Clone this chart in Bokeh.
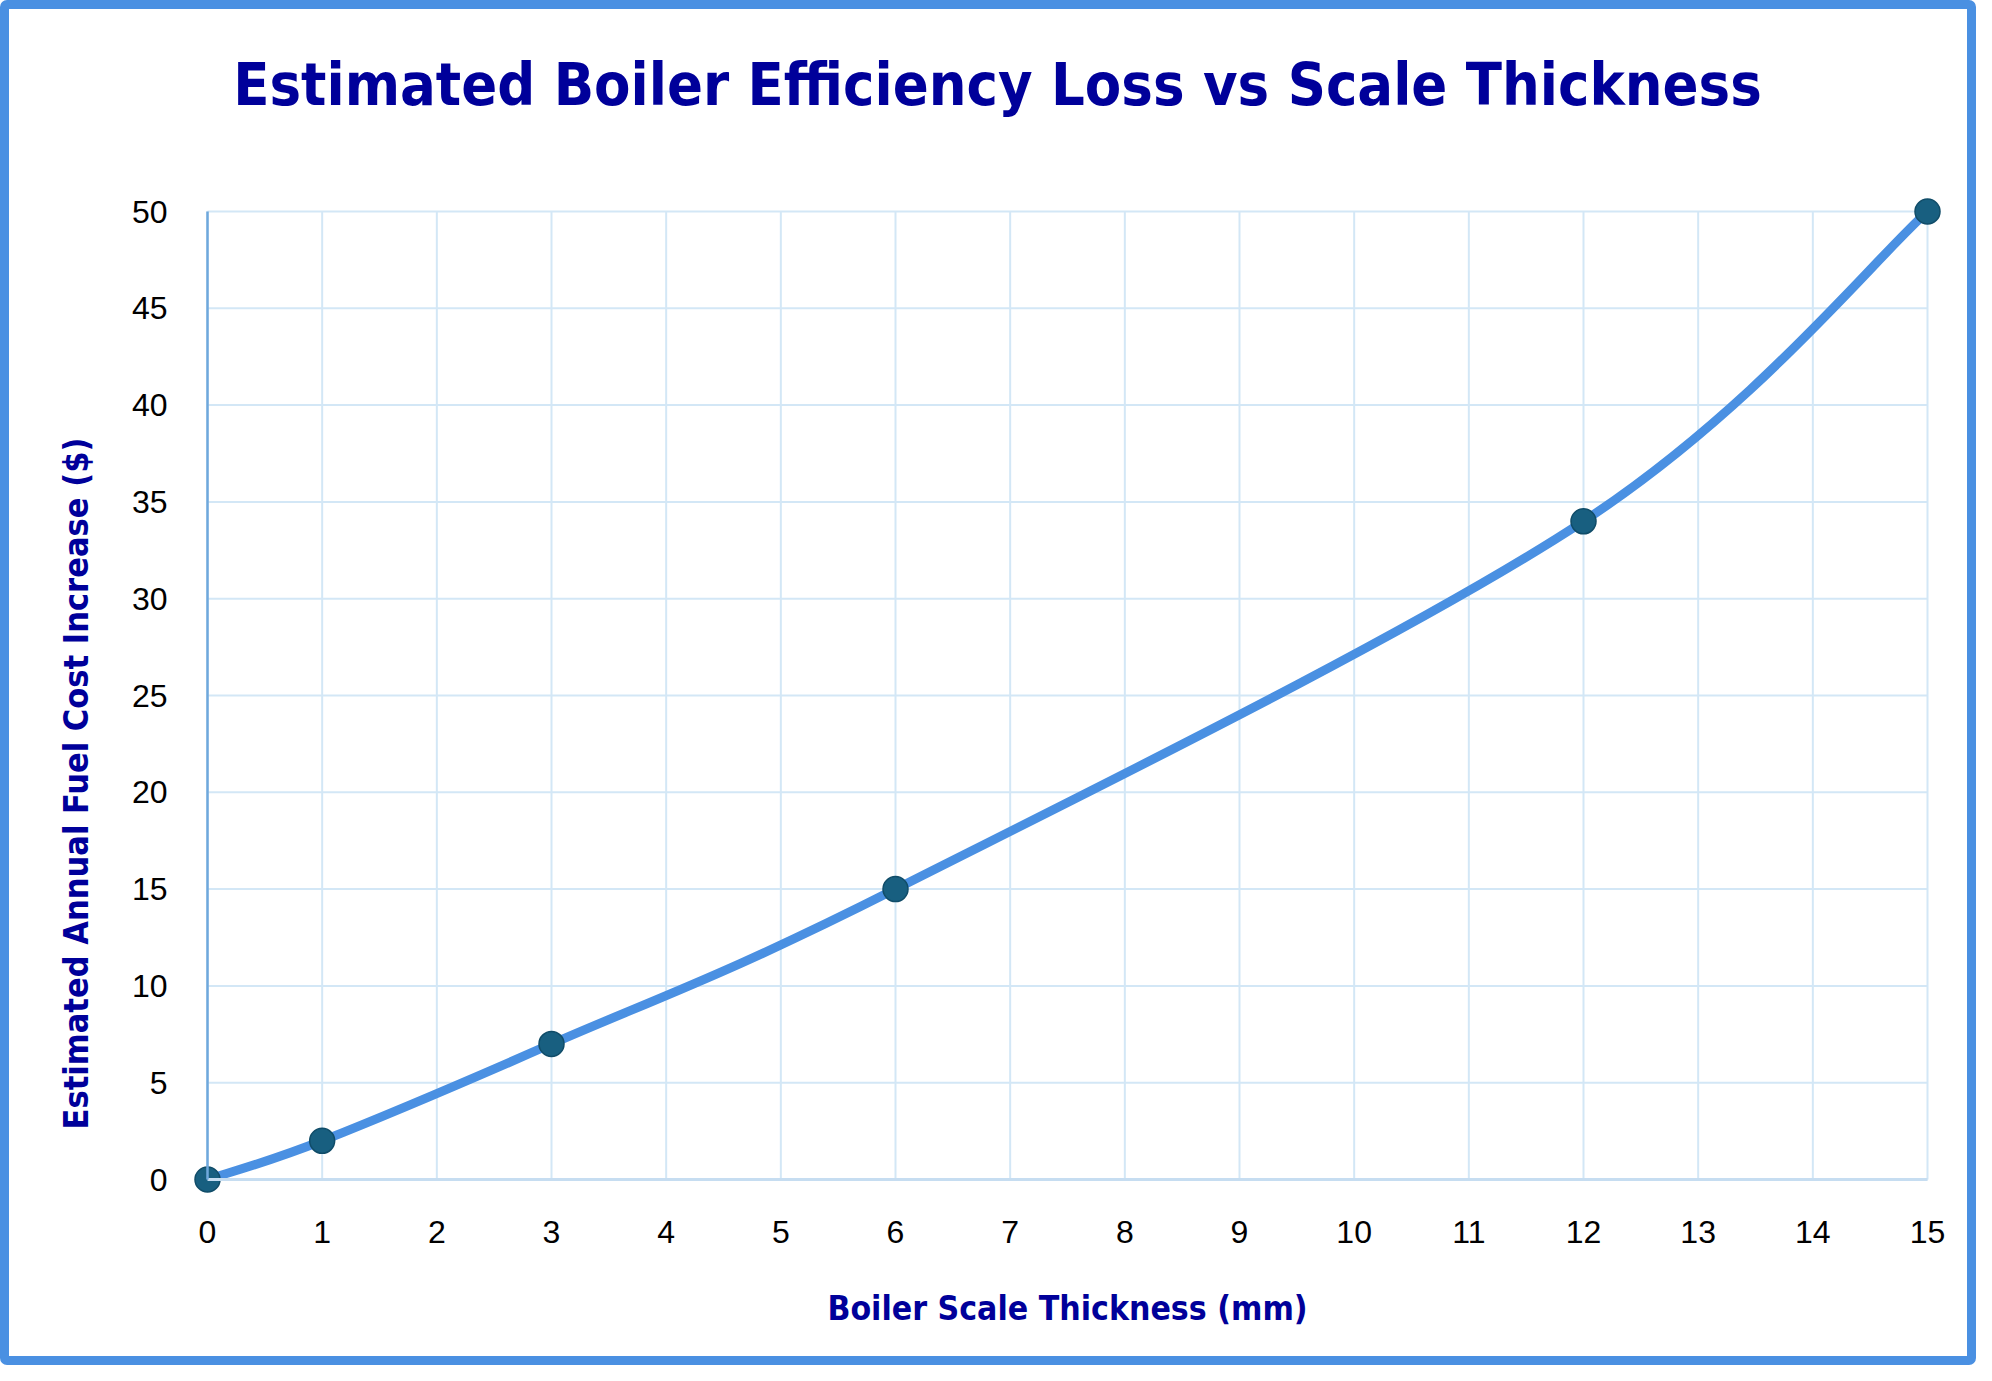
import math
from bokeh.plotting import figure
from bokeh.models import Range1d, FixedTicker, Label
from bokeh.embed import file_html
from bokeh.resources import INLINE

# Data
thickness_mm = [0, 1, 3, 6, 12, 15]
fuel_cost_increase = [0, 2, 7, 15, 34, 50]
x_ticks = list(range(0, 16))
y_ticks = [0, 5, 10, 15, 20, 25, 30, 35, 40, 45, 50]

TITLE = "Estimated Boiler Efficiency Loss vs Scale Thickness"
X_LABEL = "Boiler Scale Thickness (mm)"
Y_LABEL = "Estimated Annual Fuel Cost Increase ($)"

NAVY = "#00009A"
LINE_BLUE = "#4A90E2"
GRID = "#D3E7F6"
COND = "DejaVu Sans Condensed"

# Layout (canvas pixels): where the 0..15 x 0..50 data box sits
CANVAS_W, CANVAS_H = 1976, 1365
BOX_L, BOX_R, BOX_T, BOX_B = 198, 1918, 202, 1170
X_MIN, X_MAX = 0, 15
Y_MIN, Y_MAX = 0, 50
kx = (BOX_R - BOX_L) / (X_MAX - X_MIN)
ky = (BOX_B - BOX_T) / (Y_MAX - Y_MIN)
x_range = Range1d(X_MIN - BOX_L / kx, X_MAX + (CANVAS_W - BOX_R) / kx)
y_range = Range1d(Y_MIN - (CANVAS_H - BOX_B) / ky, Y_MAX + BOX_T / ky)


def dx(px):
    return x_range.start + px / kx


def dy(py):
    return y_range.end - py / ky


p = figure(width=CANVAS_W, height=CANVAS_H, x_range=x_range, y_range=y_range,
           output_backend="svg", toolbar_location=None,
           min_border_left=0, min_border_right=0,
           min_border_top=0, min_border_bottom=0)
p.styles = {"border": "9px solid #4A90E2", "border-radius": "7px"}
p.outline_line_color = None
p.background_fill_color = "white"
p.border_fill_color = "white"
p.grid.visible = False

# Grid lines limited to the data box
p.segment(x0=x_ticks, y0=[Y_MIN] * len(x_ticks), x1=x_ticks, y1=[Y_MAX] * len(x_ticks),
          line_color=GRID, line_width=2, level="underlay")
p.segment(x0=[X_MIN] * len(y_ticks), y0=y_ticks, x1=[X_MAX] * len(y_ticks), y1=y_ticks,
          line_color=GRID, line_width=2, level="underlay")

p.xaxis.fixed_location = 0
p.yaxis.fixed_location = 0
p.xaxis.bounds = (X_MIN, X_MAX)
p.yaxis.bounds = (Y_MIN, Y_MAX)

for ax in (p.xaxis, p.yaxis):
    ax.major_tick_line_color = None
    ax.minor_tick_line_color = None
    ax.major_label_text_font = "Liberation Sans"
    ax.major_label_text_font_size = "32px"
    ax.major_label_text_color = "black"
    ax.axis_label_text_font = COND
    ax.axis_label_text_font_style = "bold"
    ax.axis_label_text_font_size = "33.5px"
    ax.axis_label_text_color = NAVY

p.xaxis.ticker = FixedTicker(ticks=x_ticks)
p.yaxis.ticker = FixedTicker(ticks=y_ticks)
p.xaxis.axis_label = X_LABEL
p.xaxis.major_label_standoff = 35
p.yaxis.major_label_standoff = 34
p.xaxis.axis_label_standoff = 43
p.xaxis.axis_line_color = "#C6DDF1"
p.xaxis.axis_line_width = 3
p.yaxis.axis_line_color = "#6FA8DC"
p.yaxis.axis_line_width = 2.5

title = Label(x=dx(988), y=dy(75), text=TITLE,
              text_align="center", text_baseline="middle",
              text_font=COND, text_font_style="bold",
              text_font_size="59px", text_color=NAVY)
p.add_layout(title)

ylab = Label(x=dx(66), y=dy(774), text=Y_LABEL, angle=math.pi / 2,
             text_align="center", text_baseline="middle",
             text_font=COND, text_font_style="bold",
             text_font_size="34px", text_color=NAVY)
p.add_layout(ylab)

# Smoothed line (Catmull-Rom style bezier segments through the data points)
n = len(thickness_mm)
x0, y0, x1, y1, cx0, cy0, cx1, cy1 = [], [], [], [], [], [], [], []
for i in range(n - 1):
    im1 = max(i - 1, 0)
    ip2 = min(i + 2, n - 1)
    xa, ya = thickness_mm[i], fuel_cost_increase[i]
    xb, yb = thickness_mm[i + 1], fuel_cost_increase[i + 1]
    x0.append(xa); y0.append(ya); x1.append(xb); y1.append(yb)
    cx0.append(xa + (xb - thickness_mm[im1]) / 6.0)
    cy0.append(ya + (yb - fuel_cost_increase[im1]) / 6.0)
    cx1.append(xb - (thickness_mm[ip2] - xa) / 6.0)
    cy1.append(yb - (fuel_cost_increase[ip2] - ya) / 6.0)

p.bezier(x0=x0, y0=y0, x1=x1, y1=y1, cx0=cx0, cy0=cy0, cx1=cx1, cy1=cy1,
         line_color=LINE_BLUE, line_width=9, line_cap="round")

p.scatter(thickness_mm, fuel_cost_increase, size=25, marker="circle",
          fill_color="#185F80", line_color="#104C68", line_width=1.5)

open("out.html", "w").write(file_html(p, INLINE))
